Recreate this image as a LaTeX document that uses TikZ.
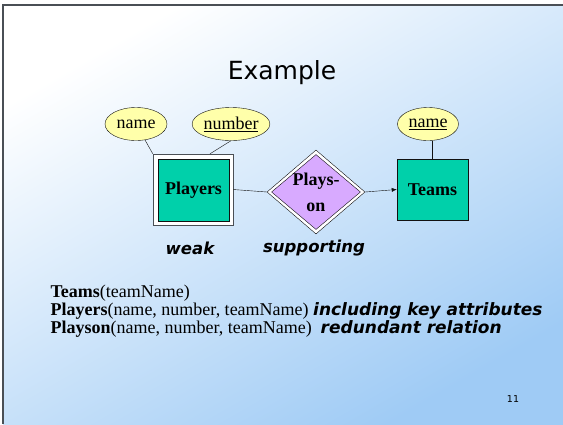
\documentclass[tikz,border=0pt]{standalone}
\usepackage{fontspec}
\setmainfont{Liberation Serif}
\newfontfamily\slidesans{DejaVu Sans}
\usetikzlibrary{arrows.meta,shapes.geometric}
\definecolor{Ink}{HTML}{111111}
\definecolor{Frame}{HTML}{4A4F55}
\definecolor{PaleSky}{HTML}{FFFFFF}
\definecolor{Sky}{HTML}{9FCBF5}
\definecolor{Attr}{HTML}{FFFFAA}
\definecolor{Entity}{HTML}{00D0AA}
\definecolor{Rel}{HTML}{D8AAFF}

\begin{document}
\begin{tikzpicture}[x=1pt,y=-1pt,every node/.style={align=center,font=\fontsize{18}{20}\selectfont},
  attr/.style={ellipse,draw=Ink,fill=Attr,inner sep=0pt,minimum height=33pt},
  entity/.style={rectangle,draw=Ink,fill=Entity,inner sep=0pt,font=\fontsize{18}{20}\selectfont\bfseries},
  note/.style={font=\slidesans\fontsize{16.5}{18}\selectfont\bfseries\itshape}]
      \useasboundingbox (0,0) rectangle (563,424);
      \shade[top color=PaleSky,bottom color=Sky,shading angle=30] (3,5) rectangle (563,424);
      \draw[Frame,line width=1.5pt] (3,424) -- (3,5) -- (563,5);

      \node[font=\slidesans\fontsize{25}{28}\selectfont] (title) at (282,73) {Example};

      % weak entity set and its attributes
      \node[rectangle,draw=Frame,fill=white,minimum width=80pt,minimum height=71pt] (players) at (193,189.5) {};
      \node[entity,minimum width=71pt,minimum height=62pt] (playersin) at (193.5,190) {Players};
      \node[attr,minimum width=62pt] (pname) at (136,124) {name};
      \node[attr,minimum width=70pt] (pnumber) at (231,124) {\underline{number}};

      % supporting relationship
      \node[diamond,draw=Ink,fill=white,inner sep=0pt,minimum width=98pt,minimum height=84pt] (playson) at (316,192) {};
      \node[diamond,draw=Ink,fill=Rel,inner sep=0pt,minimum width=89pt,minimum height=75pt,
        label={[font=\fontsize{18}{26}\selectfont\bfseries]center:Plays-\\on}] (playsonin) at (316,192) {};

      \node[entity,minimum width=71pt,minimum height=61pt] (teams) at (432.5,189.5) {Teams};
      \node[attr,minimum width=61pt] (tname) at (428,124) {\underline{name}};

      \draw[Ink] (pname) -- (players.north west);
      \draw[Ink] (pnumber.south) -- ([xshift=17pt]players.north);
      \draw[Ink] (players.east) -- (playson.west);
      \draw[-{Latex[length=5pt,width=4pt]},Ink] (playson.east) -- (teams.west);
      \draw[Ink] (tname.south -| teams.north) -- (teams.north);

      \node[note] (weak) at (190,248) {weak};
      \node[note] (supporting) at (314,248) {supporting};

      % relations
      \node[anchor=base west] (teamsrel) at (47,297) {\textbf{Teams}(teamName)};
      \node[anchor=base west] (playersrel) at (47,315) {\textbf{Players}(name, number, teamName) {\slidesans\fontsize{17}{18}\selectfont\bfseries\itshape including key attributes}};
      \node[anchor=base west] (playsonrel) at (47,333) {\textbf{Playson}(name, number, teamName)\ \ {\slidesans\fontsize{17}{18}\selectfont\bfseries\itshape redundant relation}};

      \node[font=\slidesans\fontsize{9.5}{10}\selectfont] (page) at (513,399) {11};
    \end{tikzpicture}
\end{document}
